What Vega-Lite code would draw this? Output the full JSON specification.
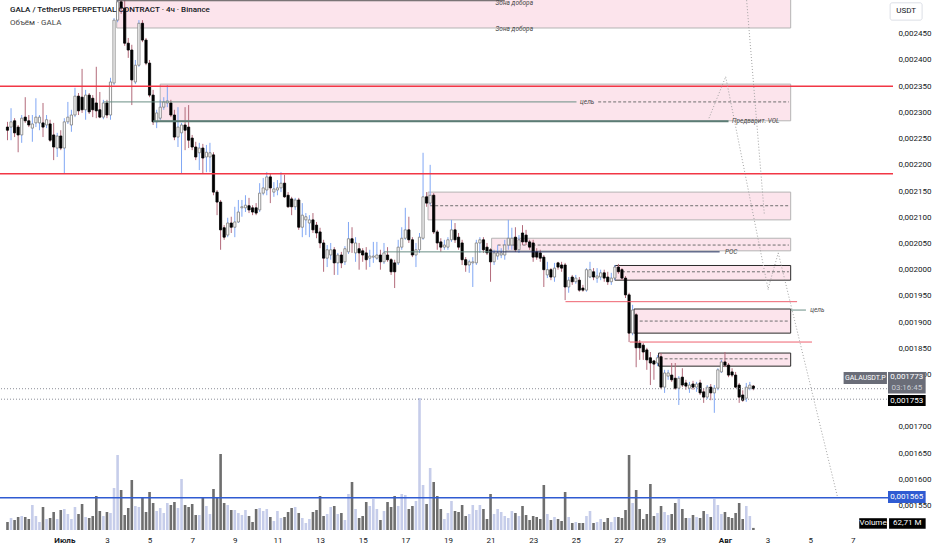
{
  "$schema": "https://vega.github.io/schema/vega-lite/v6.json",
  "width": 893,
  "height": 530,
  "autosize": {"type": "none"},
  "padding": {"left": 0, "top": 0, "right": 39, "bottom": 20},
  "background": "white",
  "datasets": {
    "candles": [
      {"i": -16, "o": 2272, "h": 2282, "l": 2247, "c": 2266, "v": 240},
      {"i": -15, "o": 2272, "h": 2308, "l": 2247, "c": 2282, "v": 360},
      {"i": -14, "o": 2284, "h": 2289, "l": 2253, "c": 2261, "v": 300},
      {"i": -13, "o": 2272, "h": 2276, "l": 2224, "c": 2257, "v": 390},
      {"i": -12, "o": 2257, "h": 2295, "l": 2242, "c": 2289, "v": 420},
      {"i": -11, "o": 2291, "h": 2329, "l": 2280, "c": 2284, "v": 390},
      {"i": -10, "o": 2284, "h": 2295, "l": 2272, "c": 2276, "v": 330},
      {"i": -9, "o": 2270, "h": 2295, "l": 2244, "c": 2278, "v": 750},
      {"i": -8, "o": 2280, "h": 2327, "l": 2272, "c": 2291, "v": 420},
      {"i": -7, "o": 2280, "h": 2295, "l": 2266, "c": 2291, "v": 240},
      {"i": -6, "o": 2280, "h": 2318, "l": 2253, "c": 2272, "v": 690},
      {"i": -5, "o": 2276, "h": 2295, "l": 2270, "c": 2286, "v": 330},
      {"i": -4, "o": 2278, "h": 2286, "l": 2244, "c": 2247, "v": 360},
      {"i": -3, "o": 2257, "h": 2280, "l": 2209, "c": 2234, "v": 540},
      {"i": -2, "o": 2232, "h": 2261, "l": 2215, "c": 2255, "v": 330},
      {"i": -1, "o": 2255, "h": 2266, "l": 2228, "c": 2232, "v": 600},
      {"i": 0, "o": 2232, "h": 2289, "l": 2184, "c": 2282, "v": 630},
      {"i": 1, "o": 2282, "h": 2320, "l": 2278, "c": 2291, "v": 480},
      {"i": 2, "o": 2276, "h": 2305, "l": 2263, "c": 2295, "v": 330},
      {"i": 3, "o": 2295, "h": 2347, "l": 2291, "c": 2331, "v": 690},
      {"i": 4, "o": 2331, "h": 2337, "l": 2295, "c": 2303, "v": 480},
      {"i": 5, "o": 2329, "h": 2383, "l": 2299, "c": 2305, "v": 780},
      {"i": 6, "o": 2305, "h": 2343, "l": 2286, "c": 2333, "v": 390},
      {"i": 7, "o": 2333, "h": 2337, "l": 2297, "c": 2301, "v": 360},
      {"i": 8, "o": 2327, "h": 2333, "l": 2291, "c": 2305, "v": 420},
      {"i": 9, "o": 2318, "h": 2387, "l": 2289, "c": 2303, "v": 1020},
      {"i": 10, "o": 2305, "h": 2339, "l": 2289, "c": 2291, "v": 570},
      {"i": 11, "o": 2291, "h": 2324, "l": 2287, "c": 2318, "v": 420},
      {"i": 12, "o": 2318, "h": 2324, "l": 2289, "c": 2295, "v": 540},
      {"i": 13, "o": 2295, "h": 2366, "l": 2286, "c": 2358, "v": 510},
      {"i": 14, "o": 2356, "h": 2480, "l": 2352, "c": 2476, "v": 1260},
      {"i": 15, "o": 2476, "h": 2514, "l": 2472, "c": 2511, "v": 2250},
      {"i": 16, "o": 2511, "h": 2514, "l": 2488, "c": 2499, "v": 1200},
      {"i": 17, "o": 2499, "h": 2514, "l": 2427, "c": 2432, "v": 450},
      {"i": 18, "o": 2432, "h": 2442, "l": 2404, "c": 2419, "v": 660},
      {"i": 19, "o": 2419, "h": 2429, "l": 2314, "c": 2362, "v": 1500},
      {"i": 20, "o": 2358, "h": 2400, "l": 2354, "c": 2390, "v": 720},
      {"i": 21, "o": 2390, "h": 2476, "l": 2387, "c": 2470, "v": 690},
      {"i": 22, "o": 2470, "h": 2476, "l": 2434, "c": 2438, "v": 960},
      {"i": 23, "o": 2438, "h": 2442, "l": 2390, "c": 2394, "v": 540},
      {"i": 24, "o": 2394, "h": 2400, "l": 2329, "c": 2333, "v": 1140},
      {"i": 25, "o": 2333, "h": 2343, "l": 2276, "c": 2282, "v": 810},
      {"i": 26, "o": 2282, "h": 2305, "l": 2270, "c": 2299, "v": 570},
      {"i": 27, "o": 2289, "h": 2324, "l": 2286, "c": 2310, "v": 660},
      {"i": 28, "o": 2310, "h": 2329, "l": 2305, "c": 2320, "v": 510},
      {"i": 29, "o": 2318, "h": 2352, "l": 2310, "c": 2322, "v": 810},
      {"i": 30, "o": 2318, "h": 2324, "l": 2291, "c": 2295, "v": 750},
      {"i": 31, "o": 2295, "h": 2305, "l": 2247, "c": 2253, "v": 840},
      {"i": 32, "o": 2253, "h": 2310, "l": 2234, "c": 2272, "v": 660},
      {"i": 33, "o": 2261, "h": 2280, "l": 2184, "c": 2276, "v": 1530},
      {"i": 34, "o": 2276, "h": 2310, "l": 2228, "c": 2266, "v": 750},
      {"i": 35, "o": 2272, "h": 2314, "l": 2232, "c": 2247, "v": 690},
      {"i": 36, "o": 2251, "h": 2257, "l": 2228, "c": 2234, "v": 780},
      {"i": 37, "o": 2234, "h": 2244, "l": 2209, "c": 2215, "v": 450},
      {"i": 38, "o": 2223, "h": 2242, "l": 2190, "c": 2232, "v": 450},
      {"i": 39, "o": 2232, "h": 2240, "l": 2184, "c": 2213, "v": 990},
      {"i": 40, "o": 2215, "h": 2238, "l": 2186, "c": 2224, "v": 720},
      {"i": 41, "o": 2215, "h": 2242, "l": 2186, "c": 2223, "v": 480},
      {"i": 42, "o": 2219, "h": 2224, "l": 2142, "c": 2148, "v": 1230},
      {"i": 43, "o": 2148, "h": 2152, "l": 2104, "c": 2129, "v": 960},
      {"i": 44, "o": 2129, "h": 2133, "l": 2038, "c": 2076, "v": 2280},
      {"i": 45, "o": 2080, "h": 2085, "l": 2057, "c": 2062, "v": 810},
      {"i": 46, "o": 2066, "h": 2099, "l": 2062, "c": 2089, "v": 750},
      {"i": 47, "o": 2089, "h": 2101, "l": 2070, "c": 2081, "v": 600},
      {"i": 48, "o": 2081, "h": 2120, "l": 2062, "c": 2091, "v": 600},
      {"i": 49, "o": 2091, "h": 2133, "l": 2089, "c": 2110, "v": 510},
      {"i": 50, "o": 2118, "h": 2133, "l": 2101, "c": 2120, "v": 450},
      {"i": 51, "o": 2118, "h": 2142, "l": 2110, "c": 2123, "v": 600},
      {"i": 52, "o": 2122, "h": 2137, "l": 2108, "c": 2114, "v": 420},
      {"i": 53, "o": 2118, "h": 2123, "l": 2104, "c": 2110, "v": 240},
      {"i": 54, "o": 2118, "h": 2127, "l": 2104, "c": 2108, "v": 630},
      {"i": 55, "o": 2114, "h": 2165, "l": 2110, "c": 2146, "v": 660},
      {"i": 56, "o": 2146, "h": 2175, "l": 2142, "c": 2156, "v": 570},
      {"i": 57, "o": 2152, "h": 2186, "l": 2142, "c": 2177, "v": 630},
      {"i": 58, "o": 2177, "h": 2184, "l": 2127, "c": 2156, "v": 390},
      {"i": 59, "o": 2148, "h": 2167, "l": 2139, "c": 2154, "v": 270},
      {"i": 60, "o": 2152, "h": 2171, "l": 2142, "c": 2156, "v": 570},
      {"i": 61, "o": 2156, "h": 2186, "l": 2148, "c": 2165, "v": 360},
      {"i": 62, "o": 2165, "h": 2181, "l": 2137, "c": 2139, "v": 390},
      {"i": 63, "o": 2142, "h": 2148, "l": 2118, "c": 2120, "v": 540},
      {"i": 64, "o": 2135, "h": 2139, "l": 2104, "c": 2120, "v": 660},
      {"i": 65, "o": 2120, "h": 2137, "l": 2114, "c": 2133, "v": 690},
      {"i": 66, "o": 2133, "h": 2137, "l": 2076, "c": 2081, "v": 510},
      {"i": 67, "o": 2081, "h": 2127, "l": 2062, "c": 2104, "v": 360},
      {"i": 68, "o": 2095, "h": 2108, "l": 2066, "c": 2101, "v": 210},
      {"i": 69, "o": 2089, "h": 2104, "l": 2062, "c": 2095, "v": 330},
      {"i": 70, "o": 2095, "h": 2108, "l": 2070, "c": 2076, "v": 540},
      {"i": 71, "o": 2085, "h": 2091, "l": 2060, "c": 2070, "v": 600},
      {"i": 72, "o": 2072, "h": 2080, "l": 2041, "c": 2051, "v": 1020},
      {"i": 73, "o": 2051, "h": 2057, "l": 1996, "c": 2022, "v": 420},
      {"i": 74, "o": 2022, "h": 2047, "l": 2005, "c": 2038, "v": 480},
      {"i": 75, "o": 2028, "h": 2051, "l": 2019, "c": 2038, "v": 690},
      {"i": 76, "o": 2038, "h": 2043, "l": 1990, "c": 2013, "v": 720},
      {"i": 77, "o": 2013, "h": 2032, "l": 1990, "c": 2028, "v": 480},
      {"i": 78, "o": 2028, "h": 2034, "l": 2003, "c": 2013, "v": 510},
      {"i": 79, "o": 2015, "h": 2045, "l": 2009, "c": 2040, "v": 300},
      {"i": 80, "o": 2034, "h": 2091, "l": 2030, "c": 2059, "v": 1080},
      {"i": 81, "o": 2059, "h": 2081, "l": 2032, "c": 2051, "v": 1440},
      {"i": 82, "o": 2032, "h": 2062, "l": 2015, "c": 2051, "v": 630},
      {"i": 83, "o": 2040, "h": 2051, "l": 2000, "c": 2032, "v": 360},
      {"i": 84, "o": 2036, "h": 2041, "l": 2015, "c": 2028, "v": 420},
      {"i": 85, "o": 2032, "h": 2043, "l": 2000, "c": 2019, "v": 840},
      {"i": 86, "o": 2022, "h": 2038, "l": 2005, "c": 2026, "v": 720},
      {"i": 87, "o": 2024, "h": 2053, "l": 2013, "c": 2026, "v": 930},
      {"i": 88, "o": 2022, "h": 2053, "l": 2019, "c": 2028, "v": 630},
      {"i": 89, "o": 2028, "h": 2038, "l": 2000, "c": 2015, "v": 300},
      {"i": 90, "o": 2015, "h": 2051, "l": 2011, "c": 2032, "v": 570},
      {"i": 91, "o": 2028, "h": 2043, "l": 2015, "c": 2019, "v": 840},
      {"i": 92, "o": 2019, "h": 2022, "l": 1990, "c": 1996, "v": 690},
      {"i": 93, "o": 2013, "h": 2019, "l": 1965, "c": 1996, "v": 1020},
      {"i": 94, "o": 2013, "h": 2057, "l": 2009, "c": 2043, "v": 720},
      {"i": 95, "o": 2043, "h": 2081, "l": 2038, "c": 2060, "v": 1080},
      {"i": 96, "o": 2060, "h": 2118, "l": 2057, "c": 2076, "v": 1050},
      {"i": 97, "o": 2076, "h": 2101, "l": 2051, "c": 2057, "v": 630},
      {"i": 98, "o": 2057, "h": 2062, "l": 2024, "c": 2028, "v": 720},
      {"i": 99, "o": 2028, "h": 2051, "l": 2005, "c": 2038, "v": 870},
      {"i": 100, "o": 2038, "h": 2070, "l": 2032, "c": 2062, "v": 3960},
      {"i": 101, "o": 2060, "h": 2223, "l": 2057, "c": 2139, "v": 1350},
      {"i": 102, "o": 2139, "h": 2148, "l": 2120, "c": 2127, "v": 780},
      {"i": 103, "o": 2127, "h": 2200, "l": 2123, "c": 2142, "v": 1860},
      {"i": 104, "o": 2142, "h": 2146, "l": 2068, "c": 2072, "v": 1440},
      {"i": 105, "o": 2072, "h": 2076, "l": 2038, "c": 2051, "v": 1020},
      {"i": 106, "o": 2053, "h": 2060, "l": 2034, "c": 2043, "v": 630},
      {"i": 107, "o": 2043, "h": 2057, "l": 2038, "c": 2047, "v": 330},
      {"i": 108, "o": 2043, "h": 2062, "l": 2038, "c": 2057, "v": 510},
      {"i": 109, "o": 2057, "h": 2095, "l": 2053, "c": 2076, "v": 870},
      {"i": 110, "o": 2076, "h": 2089, "l": 2051, "c": 2057, "v": 570},
      {"i": 111, "o": 2062, "h": 2070, "l": 2038, "c": 2043, "v": 540},
      {"i": 112, "o": 2051, "h": 2057, "l": 2009, "c": 2019, "v": 750},
      {"i": 113, "o": 2019, "h": 2024, "l": 1996, "c": 2009, "v": 420},
      {"i": 114, "o": 2009, "h": 2019, "l": 1994, "c": 2015, "v": 480},
      {"i": 115, "o": 2013, "h": 2024, "l": 1967, "c": 2015, "v": 750},
      {"i": 116, "o": 2013, "h": 2057, "l": 2009, "c": 2051, "v": 600},
      {"i": 117, "o": 2051, "h": 2062, "l": 2032, "c": 2057, "v": 750},
      {"i": 118, "o": 2057, "h": 2062, "l": 2032, "c": 2038, "v": 630},
      {"i": 119, "o": 2043, "h": 2051, "l": 2028, "c": 2032, "v": 330},
      {"i": 120, "o": 2038, "h": 2041, "l": 1977, "c": 2015, "v": 1080},
      {"i": 121, "o": 2015, "h": 2038, "l": 2009, "c": 2032, "v": 480},
      {"i": 122, "o": 2026, "h": 2047, "l": 2019, "c": 2032, "v": 630},
      {"i": 123, "o": 2028, "h": 2041, "l": 2022, "c": 2032, "v": 540},
      {"i": 124, "o": 2028, "h": 2057, "l": 2019, "c": 2047, "v": 420},
      {"i": 125, "o": 2047, "h": 2095, "l": 2038, "c": 2060, "v": 360},
      {"i": 126, "o": 2047, "h": 2080, "l": 2038, "c": 2060, "v": 570},
      {"i": 127, "o": 2062, "h": 2081, "l": 2034, "c": 2038, "v": 510},
      {"i": 128, "o": 2038, "h": 2066, "l": 2032, "c": 2057, "v": 420},
      {"i": 129, "o": 2070, "h": 2085, "l": 2047, "c": 2053, "v": 720},
      {"i": 130, "o": 2066, "h": 2076, "l": 2047, "c": 2053, "v": 450},
      {"i": 131, "o": 2053, "h": 2057, "l": 2038, "c": 2043, "v": 300},
      {"i": 132, "o": 2051, "h": 2057, "l": 2015, "c": 2024, "v": 420},
      {"i": 133, "o": 2034, "h": 2041, "l": 2019, "c": 2024, "v": 390},
      {"i": 134, "o": 2032, "h": 2038, "l": 2015, "c": 2022, "v": 330},
      {"i": 135, "o": 2024, "h": 2028, "l": 1967, "c": 2000, "v": 1350},
      {"i": 136, "o": 1990, "h": 2015, "l": 1984, "c": 2000, "v": 480},
      {"i": 137, "o": 2000, "h": 2003, "l": 1980, "c": 1986, "v": 300},
      {"i": 138, "o": 1986, "h": 2013, "l": 1977, "c": 2003, "v": 390},
      {"i": 139, "o": 2013, "h": 2015, "l": 2000, "c": 2005, "v": 330},
      {"i": 140, "o": 2009, "h": 2015, "l": 1996, "c": 2003, "v": 270},
      {"i": 141, "o": 2009, "h": 2013, "l": 1942, "c": 1967, "v": 1140},
      {"i": 142, "o": 1967, "h": 1986, "l": 1956, "c": 1980, "v": 390},
      {"i": 143, "o": 1986, "h": 1990, "l": 1971, "c": 1977, "v": 210},
      {"i": 144, "o": 1977, "h": 1990, "l": 1973, "c": 1984, "v": 240},
      {"i": 145, "o": 1980, "h": 1986, "l": 1958, "c": 1961, "v": 210},
      {"i": 146, "o": 1965, "h": 1971, "l": 1958, "c": 1961, "v": 210},
      {"i": 147, "o": 1961, "h": 2003, "l": 1958, "c": 2000, "v": 420},
      {"i": 148, "o": 1986, "h": 2015, "l": 1984, "c": 2000, "v": 570},
      {"i": 149, "o": 1996, "h": 2003, "l": 1980, "c": 1986, "v": 210},
      {"i": 150, "o": 1984, "h": 2003, "l": 1975, "c": 1988, "v": 240},
      {"i": 151, "o": 1986, "h": 2000, "l": 1980, "c": 1994, "v": 330},
      {"i": 152, "o": 1994, "h": 2000, "l": 1977, "c": 1984, "v": 240},
      {"i": 153, "o": 1986, "h": 1996, "l": 1971, "c": 1977, "v": 360},
      {"i": 154, "o": 1977, "h": 1994, "l": 1971, "c": 1984, "v": 240},
      {"i": 155, "o": 1984, "h": 2009, "l": 1980, "c": 2005, "v": 390},
      {"i": 156, "o": 2005, "h": 2011, "l": 1992, "c": 1996, "v": 390},
      {"i": 157, "o": 2000, "h": 2003, "l": 1980, "c": 1984, "v": 360},
      {"i": 158, "o": 1984, "h": 1988, "l": 1946, "c": 1952, "v": 600},
      {"i": 159, "o": 1952, "h": 1956, "l": 1862, "c": 1879, "v": 2250},
      {"i": 160, "o": 1879, "h": 1933, "l": 1875, "c": 1923, "v": 810},
      {"i": 161, "o": 1914, "h": 1917, "l": 1814, "c": 1851, "v": 1200},
      {"i": 162, "o": 1860, "h": 1866, "l": 1828, "c": 1851, "v": 630},
      {"i": 163, "o": 1856, "h": 1860, "l": 1828, "c": 1843, "v": 330},
      {"i": 164, "o": 1847, "h": 1851, "l": 1809, "c": 1828, "v": 480},
      {"i": 165, "o": 1832, "h": 1843, "l": 1780, "c": 1822, "v": 1380},
      {"i": 166, "o": 1826, "h": 1828, "l": 1790, "c": 1820, "v": 420},
      {"i": 167, "o": 1822, "h": 1837, "l": 1816, "c": 1832, "v": 510},
      {"i": 168, "o": 1834, "h": 1841, "l": 1772, "c": 1776, "v": 720},
      {"i": 169, "o": 1776, "h": 1809, "l": 1765, "c": 1803, "v": 540},
      {"i": 170, "o": 1797, "h": 1809, "l": 1790, "c": 1803, "v": 450},
      {"i": 171, "o": 1799, "h": 1822, "l": 1786, "c": 1790, "v": 480},
      {"i": 172, "o": 1793, "h": 1822, "l": 1771, "c": 1774, "v": 810},
      {"i": 173, "o": 1774, "h": 1797, "l": 1742, "c": 1793, "v": 930},
      {"i": 174, "o": 1795, "h": 1812, "l": 1776, "c": 1780, "v": 630},
      {"i": 175, "o": 1784, "h": 1790, "l": 1771, "c": 1778, "v": 360},
      {"i": 176, "o": 1774, "h": 1786, "l": 1765, "c": 1780, "v": 360},
      {"i": 177, "o": 1782, "h": 1788, "l": 1771, "c": 1776, "v": 450},
      {"i": 178, "o": 1776, "h": 1786, "l": 1767, "c": 1782, "v": 390},
      {"i": 179, "o": 1784, "h": 1790, "l": 1761, "c": 1765, "v": 360},
      {"i": 180, "o": 1767, "h": 1774, "l": 1746, "c": 1757, "v": 570},
      {"i": 181, "o": 1757, "h": 1780, "l": 1753, "c": 1776, "v": 480},
      {"i": 182, "o": 1776, "h": 1782, "l": 1751, "c": 1765, "v": 390},
      {"i": 183, "o": 1765, "h": 1780, "l": 1727, "c": 1774, "v": 930},
      {"i": 184, "o": 1774, "h": 1812, "l": 1770, "c": 1809, "v": 750},
      {"i": 185, "o": 1805, "h": 1828, "l": 1803, "c": 1824, "v": 480},
      {"i": 186, "o": 1824, "h": 1843, "l": 1814, "c": 1818, "v": 540},
      {"i": 187, "o": 1818, "h": 1822, "l": 1795, "c": 1799, "v": 390},
      {"i": 188, "o": 1805, "h": 1812, "l": 1795, "c": 1799, "v": 360},
      {"i": 189, "o": 1799, "h": 1805, "l": 1774, "c": 1776, "v": 510},
      {"i": 190, "o": 1780, "h": 1784, "l": 1746, "c": 1757, "v": 810},
      {"i": 191, "o": 1761, "h": 1770, "l": 1748, "c": 1751, "v": 330},
      {"i": 192, "o": 1755, "h": 1784, "l": 1748, "c": 1776, "v": 720},
      {"i": 193, "o": 1774, "h": 1786, "l": 1770, "c": 1780, "v": 420},
      {"i": 194, "o": 1778, "h": 1780, "l": 1770, "c": 1773, "v": 62.71}
    ],
    "zonesGrey": [
      {"x1": 14.75, "x2": 204.5, "y1": 2520, "y2": 2461},
      {"x1": 27, "x2": 204.5, "y1": 2354, "y2": 2284},
      {"x1": 102.4, "x2": 204.5, "y1": 2148, "y2": 2095},
      {"x1": 120.3, "x2": 204.5, "y1": 2060, "y2": 2036}
    ],
    "zonesDark": [
      {"x1": 155, "x2": 204.5, "y1": 2008, "y2": 1980},
      {"x1": 160.4, "x2": 204.5, "y1": 1925, "y2": 1879},
      {"x1": 167.3, "x2": 204.5, "y1": 1841, "y2": 1816}
    ],
    "mids": [
      {"x1": 150.3, "x2": 204, "p": 2320},
      {"x1": 103, "x2": 204, "p": 2122},
      {"x1": 122, "x2": 204, "p": 2047},
      {"x1": 157, "x2": 204, "p": 1996},
      {"x1": 162, "x2": 204, "p": 1902},
      {"x1": 169, "x2": 204, "p": 1830}
    ],
    "redFull": [{"p": 2350}, {"p": 2183}],
    "redSegs": [
      {"x1": 141.1, "x2": 206.3, "p": 1939},
      {"x1": 159.2, "x2": 210.5, "p": 1862}
    ],
    "dotted": [{"p": 1773}, {"p": 1753}],
    "blueLine": [{"p": 1565}],
    "tealSegs": [
      {"x1": 11.1, "x2": 144.2, "p": 2320},
      {"x1": 90, "x2": 120, "p": 2034},
      {"x1": 204.5, "x2": 208.8, "p": 1923}
    ],
    "volLine": [{"x1": 25, "x2": 187, "p": 2283}],
    "pocLine": [{"x1": 120, "x2": 184.5, "p": 2034}],
    "topLine": [{"x1": 14.75, "x2": 124, "p": 2513}],
    "diag": [
      {"x1": 192.1, "y1": 2514, "x2": 197.1, "y2": 2104},
      {"x1": 181.5, "y1": 2289, "x2": 186.2, "y2": 2368},
      {"x1": 186.2, "y1": 2368, "x2": 198.2, "y2": 1961},
      {"x1": 198.2, "y1": 1965, "x2": 201, "y2": 2032},
      {"x1": 201, "y1": 2032, "x2": 217.7, "y2": 1566}
    ],
    "notesC": [
      {"x": 126.7, "p": 2460, "t": "Зона добора"},
      {"x": 126.7, "p": 2508, "t": "Зона добора"},
      {"x": 147.2, "p": 2320, "t": "цель"}
    ],
    "notesL": [
      {"x": 188, "p": 2283, "t": "Предварит. VOL"},
      {"x": 186, "p": 2034, "t": "POC"},
      {"x": 210, "p": 1923, "t": "цель"}
    ],
    "head1": [{"x": -15.3, "p": 2495, "t": "GALA / TetherUS PERPETUAL CONTRACT · 4ч · Binance"}],
    "head2": [{"x": -15.3, "p": 2470.5, "t": "Объём · GALA"}],
    "grayTags": [
      {"x1": 219.4, "x2": 231.6, "y1": 1805, "y2": 1782},
      {"x1": 231.9, "x2": 242.5, "y1": 1805, "y2": 1764}
    ],
    "blackTags": [
      {"x1": 231.9, "x2": 242.5, "y1": 1761, "y2": 1740},
      {"x1": 223.8, "x2": 231.6, "y1": 1526, "y2": 1506},
      {"x1": 232.2, "x2": 242.5, "y1": 1526, "y2": 1506}
    ],
    "blueTag": [{"x1": 231.9, "x2": 242.5, "y1": 1578, "y2": 1555}],
    "unitBox": [{"x1": 232.5, "x2": 241.5, "y1": 2509, "y2": 2476}],
    "tagText": [
      {"x": 237.2, "p": 1795, "t": "0,001773"},
      {"x": 237.2, "p": 1750.5, "t": "0,001753"},
      {"x": 237.2, "p": 1566.5, "t": "0,001565"},
      {"x": 227.7, "p": 1516, "t": "Volume"},
      {"x": 237.3, "p": 1516, "t": "62,71 M"}
    ],
    "symText": [{"x": 225.5, "p": 1793.5, "t": "GALAUSDT.P"}],
    "countdown": [{"x": 237.2, "p": 1775, "t": "03:16:45"}],
    "unitText": [{"x": 237, "p": 2492.5, "t": "USDT"}]
  },
  "layer": [
    {
      "data": {"name": "candles"},
      "mark": {"type": "bar", "width": 2.6},
      "encoding": {
        "x": {
          "field": "i",
          "type": "quantitative",
          "scale": {"domain": [-16.7, 231.9], "nice": false, "zero": false},
          "axis": {
            "orient": "bottom",
            "values": [0, 12, 24, 36, 48, 60, 72, 84, 96, 108, 120, 132, 144, 156, 168, 186, 198, 210, 222],
            "labelExpr": "datum.value == 0 ? 'Июль' : datum.value == 186 ? 'Авг' : datum.value < 186 ? '' + (datum.value / 6 + 1) : '' + ((datum.value - 186) / 6 + 1)",
            "title": null,
            "domain": false,
            "ticks": false,
            "grid": false,
            "labels": true,
            "labelFontSize": 8,
            "labelColor": "#131722",
            "labelPadding": 6,
            "labelOverlap": false,
            "labelFontWeight": {"condition": {"test": "datum.value == 0 || datum.value == 186", "value": "bold"}, "value": "normal"}
          }
        },
        "y": {"field": "v", "type": "quantitative", "scale": {"domain": [0, 15900], "nice": false}, "axis": null},
        "color": {"condition": {"test": "datum.c >= datum.o", "value": "#c6cdea"}, "value": "#6e6e6e"}
      }
    },
    {
      "data": {"name": "zonesGrey"},
      "mark": {"type": "rect", "fill": "#fce4ec", "stroke": "#b4b4b4", "strokeWidth": 1},
      "encoding": {
        "x": {"field": "x1", "type": "quantitative"},
        "x2": {"field": "x2"},
        "y": {"field": "y1", "type": "quantitative", "scale": {"domain": [1503.5, 2514.4], "nice": false, "zero": false}, "axis": null},
        "y2": {"field": "y2"}
      }
    },
    {
      "data": {"name": "zonesDark"},
      "mark": {"type": "rect", "fill": "#fce4ec", "stroke": "#2b2b2b", "strokeWidth": 1},
      "encoding": {
        "x": {"field": "x1", "type": "quantitative"},
        "x2": {"field": "x2"},
        "y": {"field": "y1", "type": "quantitative", "scale": {"domain": [1503.5, 2514.4], "nice": false, "zero": false}, "axis": null},
        "y2": {"field": "y2"}
      }
    },
    {
      "data": {"name": "mids"},
      "mark": {"type": "rule", "stroke": "#707070", "strokeWidth": 1, "strokeDash": [3, 2]},
      "encoding": {
        "x": {"field": "x1", "type": "quantitative"},
        "x2": {"field": "x2"},
        "y": {"field": "p", "type": "quantitative", "scale": {"domain": [1503.5, 2514.4], "nice": false, "zero": false}, "axis": null}
      }
    },
    {
      "data": {"name": "candles"},
      "mark": {"type": "rule", "strokeWidth": 1},
      "encoding": {
        "x": {"field": "i", "type": "quantitative"},
        "y": {
          "field": "l",
          "type": "quantitative",
          "scale": {"domain": [1503.5, 2514.4], "nice": false, "zero": false},
          "axis": {
            "orient": "right",
            "values": [1550, 1600, 1650, 1700, 1800, 1850, 1900, 1950, 2000, 2050, 2100, 2150, 2200, 2250, 2300, 2350, 2400, 2450],
            "labelExpr": "'0,00' + datum.value",
            "title": null,
            "domain": false,
            "ticks": false,
            "grid": false,
            "labelFontSize": 8,
            "labelColor": "#131722",
            "labelPadding": 5,
            "labelOverlap": false
          }
        },
        "y2": {"field": "h"},
        "color": {"condition": {"test": "datum.c >= datum.o", "value": "#80a7f4"}, "value": "#b36b7b"}
      }
    },
    {
      "data": {"name": "candles"},
      "mark": {"type": "bar", "width": 2.2, "strokeWidth": 0.8},
      "encoding": {
        "x": {"field": "i", "type": "quantitative"},
        "y": {"field": "o", "type": "quantitative", "scale": {"domain": [1503.5, 2514.4], "nice": false, "zero": false}, "axis": null},
        "y2": {"field": "c"},
        "fill": {"condition": {"test": "datum.c >= datum.o", "value": "#ffffff"}, "value": "#000000"},
        "stroke": {"condition": {"test": "datum.c >= datum.o", "value": "#7b7b7b"}, "value": "#000000"}
      }
    },
    {
      "data": {"name": "redFull"},
      "mark": {"type": "rule", "stroke": "#f23645", "strokeWidth": 1.5},
      "encoding": {"y": {"field": "p", "type": "quantitative", "scale": {"domain": [1503.5, 2514.4], "nice": false, "zero": false}, "axis": null}}
    },
    {
      "data": {"name": "redSegs"},
      "mark": {"type": "rule", "stroke": "#ee6270", "strokeWidth": 1},
      "encoding": {
        "x": {"field": "x1", "type": "quantitative"},
        "x2": {"field": "x2"},
        "y": {"field": "p", "type": "quantitative", "scale": {"domain": [1503.5, 2514.4], "nice": false, "zero": false}, "axis": null}
      }
    },
    {
      "data": {"name": "dotted"},
      "mark": {"type": "rule", "stroke": "#8c8f99", "strokeWidth": 1, "strokeDash": [1, 2]},
      "encoding": {"y": {"field": "p", "type": "quantitative", "scale": {"domain": [1503.5, 2514.4], "nice": false, "zero": false}, "axis": null}}
    },
    {
      "data": {"name": "blueLine"},
      "mark": {"type": "rule", "stroke": "#2f5bd2", "strokeWidth": 1.5},
      "encoding": {"y": {"field": "p", "type": "quantitative", "scale": {"domain": [1503.5, 2514.4], "nice": false, "zero": false}, "axis": null}}
    },
    {
      "data": {"name": "tealSegs"},
      "mark": {"type": "rule", "stroke": "#6a8f85", "strokeWidth": 1},
      "encoding": {
        "x": {"field": "x1", "type": "quantitative"},
        "x2": {"field": "x2"},
        "y": {"field": "p", "type": "quantitative", "scale": {"domain": [1503.5, 2514.4], "nice": false, "zero": false}, "axis": null}
      }
    },
    {
      "data": {"name": "volLine"},
      "mark": {"type": "rule", "stroke": "#5b7c74", "strokeWidth": 2},
      "encoding": {
        "x": {"field": "x1", "type": "quantitative"},
        "x2": {"field": "x2"},
        "y": {"field": "p", "type": "quantitative", "scale": {"domain": [1503.5, 2514.4], "nice": false, "zero": false}, "axis": null}
      }
    },
    {
      "data": {"name": "pocLine"},
      "mark": {"type": "rule", "stroke": "#1f2c5c", "strokeWidth": 1},
      "encoding": {
        "x": {"field": "x1", "type": "quantitative"},
        "x2": {"field": "x2"},
        "y": {"field": "p", "type": "quantitative", "scale": {"domain": [1503.5, 2514.4], "nice": false, "zero": false}, "axis": null}
      }
    },
    {
      "data": {"name": "topLine"},
      "mark": {"type": "rule", "stroke": "#555555", "strokeWidth": 1},
      "encoding": {
        "x": {"field": "x1", "type": "quantitative"},
        "x2": {"field": "x2"},
        "y": {"field": "p", "type": "quantitative", "scale": {"domain": [1503.5, 2514.4], "nice": false, "zero": false}, "axis": null}
      }
    },
    {
      "data": {"name": "diag"},
      "mark": {"type": "rule", "stroke": "#a3a3a3", "strokeWidth": 1, "strokeDash": [1, 2]},
      "encoding": {
        "x": {"field": "x1", "type": "quantitative"},
        "x2": {"field": "x2"},
        "y": {"field": "y1", "type": "quantitative", "scale": {"domain": [1503.5, 2514.4], "nice": false, "zero": false}, "axis": null},
        "y2": {"field": "y2"}
      }
    },
    {
      "data": {"name": "notesC"},
      "mark": {"type": "text", "fontSize": 6.5, "fontStyle": "italic", "color": "#4a4a4a", "align": "center", "baseline": "middle"},
      "encoding": {
        "x": {"field": "x", "type": "quantitative"},
        "y": {"field": "p", "type": "quantitative", "scale": {"domain": [1503.5, 2514.4], "nice": false, "zero": false}, "axis": null},
        "text": {"field": "t"}
      }
    },
    {
      "data": {"name": "notesL"},
      "mark": {"type": "text", "fontSize": 6.5, "fontStyle": "italic", "color": "#4a4a4a", "align": "left", "baseline": "middle"},
      "encoding": {
        "x": {"field": "x", "type": "quantitative"},
        "y": {"field": "p", "type": "quantitative", "scale": {"domain": [1503.5, 2514.4], "nice": false, "zero": false}, "axis": null},
        "text": {"field": "t"}
      }
    },
    {
      "data": {"name": "head1"},
      "mark": {"type": "text", "fontSize": 8, "fontWeight": 500, "color": "#131722", "align": "left", "baseline": "middle"},
      "encoding": {
        "x": {"field": "x", "type": "quantitative"},
        "y": {"field": "p", "type": "quantitative", "scale": {"domain": [1503.5, 2514.4], "nice": false, "zero": false}, "axis": null},
        "text": {"field": "t"}
      }
    },
    {
      "data": {"name": "head2"},
      "mark": {"type": "text", "fontSize": 8, "color": "#444444", "align": "left", "baseline": "middle"},
      "encoding": {
        "x": {"field": "x", "type": "quantitative"},
        "y": {"field": "p", "type": "quantitative", "scale": {"domain": [1503.5, 2514.4], "nice": false, "zero": false}, "axis": null},
        "text": {"field": "t"}
      }
    },
    {
      "data": {"name": "grayTags"},
      "mark": {"type": "rect", "fill": "#6a6d78"},
      "encoding": {
        "x": {"field": "x1", "type": "quantitative"},
        "x2": {"field": "x2"},
        "y": {"field": "y1", "type": "quantitative", "scale": {"domain": [1503.5, 2514.4], "nice": false, "zero": false}, "axis": null},
        "y2": {"field": "y2"}
      }
    },
    {
      "data": {"name": "blackTags"},
      "mark": {"type": "rect", "fill": "#000000"},
      "encoding": {
        "x": {"field": "x1", "type": "quantitative"},
        "x2": {"field": "x2"},
        "y": {"field": "y1", "type": "quantitative", "scale": {"domain": [1503.5, 2514.4], "nice": false, "zero": false}, "axis": null},
        "y2": {"field": "y2"}
      }
    },
    {
      "data": {"name": "blueTag"},
      "mark": {"type": "rect", "fill": "#2f5bd2"},
      "encoding": {
        "x": {"field": "x1", "type": "quantitative"},
        "x2": {"field": "x2"},
        "y": {"field": "y1", "type": "quantitative", "scale": {"domain": [1503.5, 2514.4], "nice": false, "zero": false}, "axis": null},
        "y2": {"field": "y2"}
      }
    },
    {
      "data": {"name": "unitBox"},
      "mark": {"type": "rect", "fill": "#ffffff", "stroke": "#dcdfe6", "strokeWidth": 1, "cornerRadius": 2},
      "encoding": {
        "x": {"field": "x1", "type": "quantitative"},
        "x2": {"field": "x2"},
        "y": {"field": "y1", "type": "quantitative", "scale": {"domain": [1503.5, 2514.4], "nice": false, "zero": false}, "axis": null},
        "y2": {"field": "y2"}
      }
    },
    {
      "data": {"name": "tagText"},
      "mark": {"type": "text", "fontSize": 8, "color": "#ffffff", "align": "center", "baseline": "middle"},
      "encoding": {
        "x": {"field": "x", "type": "quantitative"},
        "y": {"field": "p", "type": "quantitative", "scale": {"domain": [1503.5, 2514.4], "nice": false, "zero": false}, "axis": null},
        "text": {"field": "t"}
      }
    },
    {
      "data": {"name": "symText"},
      "mark": {"type": "text", "fontSize": 7, "color": "#ffffff", "align": "center", "baseline": "middle"},
      "encoding": {
        "x": {"field": "x", "type": "quantitative"},
        "y": {"field": "p", "type": "quantitative", "scale": {"domain": [1503.5, 2514.4], "nice": false, "zero": false}, "axis": null},
        "text": {"field": "t"}
      }
    },
    {
      "data": {"name": "countdown"},
      "mark": {"type": "text", "fontSize": 8, "color": "#c9ccd4", "align": "center", "baseline": "middle"},
      "encoding": {
        "x": {"field": "x", "type": "quantitative"},
        "y": {"field": "p", "type": "quantitative", "scale": {"domain": [1503.5, 2514.4], "nice": false, "zero": false}, "axis": null},
        "text": {"field": "t"}
      }
    },
    {
      "data": {"name": "unitText"},
      "mark": {"type": "text", "fontSize": 8, "color": "#131722", "align": "center", "baseline": "middle"},
      "encoding": {
        "x": {"field": "x", "type": "quantitative"},
        "y": {"field": "p", "type": "quantitative", "scale": {"domain": [1503.5, 2514.4], "nice": false, "zero": false}, "axis": null},
        "text": {"field": "t"}
      }
    }
  ],
  "resolve": {"scale": {"y": "independent"}},
  "config": {
    "view": {"stroke": null},
    "font": "Roboto"
  }
}
